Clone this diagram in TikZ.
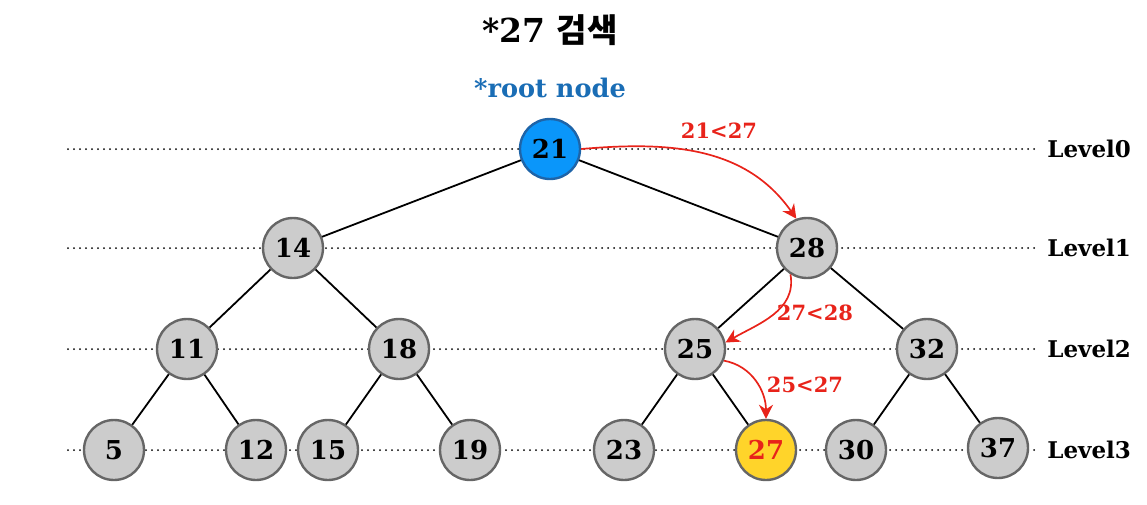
\documentclass[tikz,border=0pt]{standalone}
\usepackage{fontspec}
\setmainfont{DejaVu Serif}
\newfontfamily\cjk{Noto Sans CJK KR}
\usepackage{tikz}
\usetikzlibrary{arrows.meta}
\definecolor{nodegray}{HTML}{CCCCCC}
\definecolor{rimgray}{HTML}{666666}
\definecolor{rootblue}{HTML}{0A96FA}
\definecolor{rootrim}{HTML}{1E64A8}
\definecolor{hitgold}{HTML}{FFD42A}
\definecolor{pathred}{HTML}{E8231A}
\definecolor{labelblue}{HTML}{1A6DB5}
\tikzset{every picture/.style={x=0.5pt,y=-0.5pt}}
\tikzset{vertex/.style={draw=rimgray, fill=nodegray, circle, line width=1.2pt,
  minimum size=30pt, inner sep=0pt, font=\fontsize{13}{13}\selectfont\bfseries}}
\tikzset{edge/.style={line width=0.9pt}}
\tikzset{levelline/.style={line width=1pt, line cap=round, dash pattern=on 0pt off 3pt}}
\tikzset{levelname/.style={anchor=west, inner sep=0pt, font=\fontsize{11.5}{11.5}\selectfont\bfseries}}
\tikzset{searchpath/.style={pathred, line width=0.85pt, -{Stealth[length=7pt,width=7pt]}}}
\tikzset{cmp/.style={text=pathred, font=\fontsize{10.5}{10.5}\selectfont\bfseries}}

\begin{document}
\begin{tikzpicture}
\useasboundingbox (0,0) rectangle (1147,504);
% title
\node (title) at (550,30) {\fontsize{16.5}{16.5}\selectfont\bfseries *27 {\cjk 검색}};
\node[text=labelblue] (rootlbl) at (550,88) {\fontsize{12.8}{12.8}\selectfont\bfseries *root node};
% levels
\coordinate (s0) at (68,149);
\coordinate (s1) at (68,248);
\coordinate (s2) at (68,349);
\coordinate (s3) at (68,450);
\node[levelname] (lv0) at (1047,149) {Level0};
\node[levelname] (lv1) at (1047,248) {Level1};
\node[levelname] (lv2) at (1047,349) {Level2};
\node[levelname] (lv3) at (1047,450) {Level3};
\draw[levelline] (s0) -- ([xshift=-6pt]lv0.west);
\draw[levelline] (s1) -- ([xshift=-6pt]lv1.west);
\draw[levelline] (s2) -- ([xshift=-6pt]lv2.west);
\draw[levelline] (s3) -- ([xshift=-6pt]lv3.west);
% tree
\node[vertex, fill=rootblue, draw=rootrim] (n21) at (550,149) {21};
\node[vertex] (n14) at (293,248) {14};
\node[vertex] (n28) at (807,248) {28};
\node[vertex] (n11) at (187,349) {11};
\node[vertex] (n18) at (399,349) {18};
\node[vertex] (n25) at (695,349) {25};
\node[vertex] (n32) at (927,349) {32};
\node[vertex] (n5) at (114,450) {5};
\node[vertex] (n12) at (256,450) {12};
\node[vertex] (n15) at (328,450) {15};
\node[vertex] (n19) at (470,450) {19};
\node[vertex] (n23) at (624,450) {23};
\node[vertex, fill=hitgold, text=pathred] (n27) at (766,450) {27};
\node[vertex] (n30) at (856,450) {30};
\node[vertex] (n37) at (998,448) {37};
\draw[edge] (n21) -- (n14);
\draw[edge] (n21) -- (n28);
\draw[edge] (n14) -- (n11);
\draw[edge] (n14) -- (n18);
\draw[edge] (n28) -- (n25);
\draw[edge] (n28) -- (n32);
\draw[edge] (n11) -- (n5);
\draw[edge] (n11) -- (n12);
\draw[edge] (n18) -- (n15);
\draw[edge] (n18) -- (n19);
\draw[edge] (n25) -- (n23);
\draw[edge] (n25) -- (n27);
\draw[edge] (n32) -- (n30);
\draw[edge] (n32) -- (n37);
% search path
\draw[searchpath] (n21.east) to[out=5, in=125] (n28.110);
\draw[searchpath] (n28.238) to[out=-80, in=30] (n25.12);
\draw[searchpath] (n25.-22) to[out=-10, in=90] (n27.north);
\node[cmp] (c1) at (719,131) {21<27};
\node[cmp] (c2) at (815,313) {27<28};
\node[cmp] (c3) at (805,385) {25<27};
\end{tikzpicture}
\end{document}
